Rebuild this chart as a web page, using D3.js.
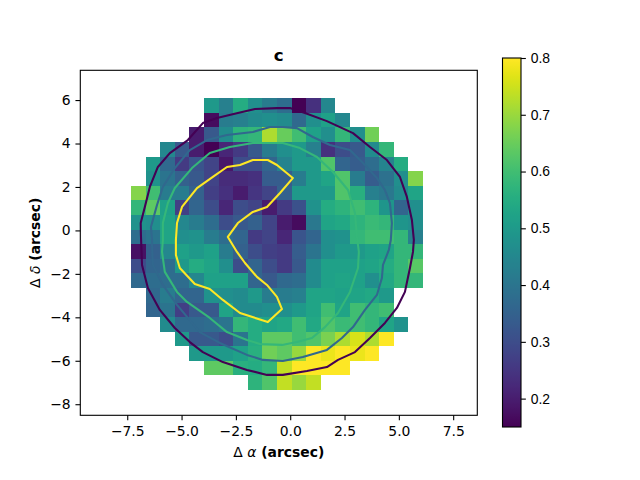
<!DOCTYPE html>
<html>
<head>
<meta charset="utf-8">
<script src="https://cdn.jsdelivr.net/npm/d3@7"></script>
<style>
  html, body { margin: 0; padding: 0; background: #fff; }
  svg { display: block; font-family: "DejaVu Sans", sans-serif; }
  .tick text { font-size: 13.9px; fill: #000; }
  .domain, .tick line { stroke: #000; stroke-width: 1.1px; }
</style>
</head>
<body>
<div id="chart"></div>
<script>
// grid geometry in arcsec
const gridLeft = -7.33;
const gridTop = 6.09;
const cellSize = 0.672;

// first filled column of every row
const firstCol = [5, 5, 4, 2, 1, 1, 0, 0, 0, 0, 0, 0, 0, 1, 1, 2, 3, 4, 5, 8];

const rowValues = [
  [.5, .43, .55, .47, .42, .38, .15, .24, .45],
  [.17, .42, .43, .46, .47, .46, .37, .47, .52, .45],
  [.2, .33, .46, .57, .58, .72, .65, .6, .52, .47, .58, .47, .66],
  [.45, .33, .2, .15, .22, .26, .33, .42, .47, .5, .43, .24, .3, .33, .46, .58],
  [.5, .37, .26, .32, .28, .19, .3, .3, .36, .44, .5, .5, .62, .36, .34, .38, .44, .55],
  [.48, .4, .35, .33, .28, .23, .23, .24, .34, .34, .42, .5, .53, .62, .42, .34, .39, .47, .68],
  [.68, .6, .42, .42, .35, .27, .24, .2, .25, .28, .35, .5, .5, .5, .62, .56, .43, .41, .46, .53],
  [.58, .64, .52, .27, .36, .3, .22, .3, .28, .2, .26, .31, .48, .55, .57, .6, .57, .49, .36, .47],
  [.48, .47, .53, .45, .42, .38, .3, .33, .35, .28, .2, .17, .41, .53, .54, .57, .59, .58, .49, .47],
  [.38, .4, .53, .47, .48, .42, .38, .36, .26, .28, .22, .32, .36, .47, .48, .58, .6, .6, .58, .43],
  [.18, .35, .45, .52, .5, .52, .42, .35, .3, .27, .26, .34, .4, .47, .5, .5, .52, .53, .58, .58],
  [.3, .36, .38, .5, .55, .53, .47, .3, .36, .3, .26, .33, .46, .52, .52, .52, .53, .55, .58, .63],
  [.37, .38, .38, .38, .45, .52, .52, .52, .36, .33, .37, .38, .46, .52, .53, .52, .47, .54, .58, .58],
  [.37, .42, .36, .36, .48, .47, .46, .5, .42, .42, .43, .53, .53, .52, .53, .54, .5],
  [.36, .4, .27, .33, .33, .53, .46, .46, .47, .47, .5, .53, .6, .53, .6, .58, .6],
  [.46, .37, .37, .38, .4, .58, .55, .53, .54, .6, .54, .62, .59, .6, .58, .53, .48],
  [.5, .33, .33, .3, .4, .55, .64, .64, .6, .62, .67, .72, .76, .72, .8],
  [.5, .5, .5, .52, .56, .66, .64, .7, .8, .78, .8, .78, .8],
  [.64, .64, .56, .55, .58, .74, .8, .8, .8, .8],
  [.57, .62, .74, .7, .74]
];

// contour traces [ra, dec], outermost first
const contourOuter = [
  [-6.87, -.21], [-6.88, .34], [-6.69, 1.08], [-6.46, 2], [-6.09, 2.92], [-5.54, 3.56], [-4.71, 4.16],
  [-4.02, 4.94], [-3.37, 5.17], [-2.41, 5.4], [-1.62, 5.59], [-.61, 5.63], [-.01, 5.63], [.68, 5.4],
  [1.69, 5.03], [2.89, 4.48], [3.67, 3.84], [4.45, 3.24], [5.05, 2.46], [5.37, 1.54], [5.6, .48],
  [5.69, -.44], [5.65, -.99], [5.51, -1.73], [5.28, -2.83], [4.91, -3.57], [4.36, -4.26], [3.67, -4.95],
  [2.98, -5.6], [2.2, -5.96], [1.69, -6.29], [.77, -6.47], [-.34, -6.65], [-1.07, -6.65], [-1.99, -6.42],
  [-3.1, -6.06], [-4.02, -5.6], [-4.62, -5.14], [-5.31, -4.49], [-6, -3.66], [-6.55, -2.65], [-6.82, -1.59]
];
const contourMid = [
  [-6.36, -.44], [-6.41, .16], [-6.13, 1.17], [-5.86, 2], [-5.31, 2.87], [-4.62, 3.7], [-3.83, 4.16],
  [-2.91, 4.39], [-1.72, 4.53], [-.93, 4.76], [-.34, 4.76], [.31, 4.71], [1.04, 4.3], [1.83, 3.93],
  [2.75, 3.7], [3.35, 3.1], [3.99, 2.41], [4.36, 1.86], [4.59, 1.26], [4.68, .34], [4.63, -.44],
  [4.54, -.9], [4.27, -1.59], [4.22, -2.19], [3.99, -2.97], [3.44, -3.66], [2.89, -4.45], [2.38, -4.95],
  [1.69, -5.5], [.58, -5.83], [-.34, -6.01], [-1.26, -5.96], [-1.99, -5.73], [-3.24, -5.18], [-4.16, -4.68],
  [-5.21, -3.43], [-5.86, -2.51], [-6.32, -1.59], [-6.36, -.67]
];
const contourInner = [
  [-5.86, -.44], [-5.86, .34], [-5.63, 1.26], [-5.31, 1.95], [-4.52, 2.87], [-3.7, 3.56], [-2.78, 3.84],
  [-1.72, 4.02], [-.34, 4.02], [.45, 3.79], [1.23, 3.38], [1.97, 2.69], [2.66, 1.86], [2.98, .8],
  [3.07, -.3], [3.16, -.99], [3.12, -1.73], [2.75, -2.83], [2.2, -3.8], [1.6, -4.45], [1, -4.95],
  [.31, -5.14], [-.38, -5.27], [-1.39, -5.23], [-1.99, -5.04], [-2.91, -4.68], [-3.7, -4.03], [-4.75, -3.29],
  [-5.21, -2.83], [-5.77, -1.91], [-5.9, -.99]
];
const contourCore = [
  [.12, 2.41], [-.61, 3.01], [-1.03, 3.24], [-1.72, 3.24], [-2.31, 3.01], [-2.91, 2.92], [-3.56, 2.46],
  [-4.29, 1.95], [-4.98, 1.08], [-5.21, .34], [-5.26, -.44], [-5.26, -1.13], [-5.08, -1.73], [-4.39, -2.47],
  [-3.7, -2.7], [-3.1, -3.2], [-2.31, -3.8], [-1.03, -4.22], [-.38, -3.62], [-.61, -3.06], [-1.07, -2.51],
  [-1.53, -2.14], [-2.08, -1.5], [-2.45, -.99], [-2.87, -.3], [-2.41, .34], [-1.72, .85], [-1.07, 1.08],
  [-.47, 1.72]
];
const contourColors = ["#440154", "#31688e", "#35b779", "#fde725"];

const xTicks = [-7.5, -5, -2.5, 0, 2.5, 5, 7.5];
const yTicks = [-8, -6, -4, -2, 0, 2, 4, 6];
const cbarTicks = [0.2, 0.3, 0.4, 0.5, 0.6, 0.7, 0.8];
const vMin = 0.15;
const vMax = 0.8;

const svg = d3.select("#chart").append("svg")
  .attr("width", 640)
  .attr("height", 480);

const x = d3.scaleLinear().domain([-9.66, 8.61]).range([80.3, 477.3]);
const y = d3.scaleLinear().domain([-8.51, 7.37]).range([415.3, 70.3]);
const color = d3.scaleSequential(d3.interpolateViridis).domain([vMin, vMax]);

// Flatten the rows into cells
const cells = [];
rowValues.forEach((row, r) => {
  row.forEach((v, i) => cells.push({ r, c: firstCol[r] + i, v }));
});

svg.append("g")
  .selectAll("rect")
  .data(cells)
  .join("rect")
  .attr("shape-rendering", "crispEdges")
  .attr("x", d => x(gridLeft + d.c * cellSize))
  .attr("y", d => y(gridTop - d.r * cellSize))
  .attr("width", d => x(gridLeft + (d.c + 1) * cellSize) - x(gridLeft + d.c * cellSize))
  .attr("height", d => y(gridTop - (d.r + 1) * cellSize) - y(gridTop - d.r * cellSize))
  .attr("fill", d => color(d.v));

const line = d3.line()
  .x(d => x(d[0]))
  .y(d => y(d[1]))
  .curve(d3.curveLinearClosed);

svg.append("g")
  .attr("fill", "none")
  .attr("stroke-width", 2.08)
  .attr("stroke-linejoin", "round")
  .selectAll("path")
  .data([contourOuter, contourMid, contourInner, contourCore])
  .join("path")
  .attr("d", line)
  .attr("stroke", (d, i) => contourColors[i]);

// Frame and axes
svg.append("rect")
  .attr("x", 80.3).attr("y", 70.3)
  .attr("width", 397).attr("height", 345)
  .attr("fill", "none")
  .attr("stroke", "#000")
  .attr("stroke-width", 1.1);

svg.append("g")
  .attr("transform", "translate(0,415.3)")
  .call(d3.axisBottom(x).tickValues(xTicks).tickSize(4.86).tickPadding(5.6).tickFormat(d3.format(".1f")))
  .call(g => g.select(".domain").remove());

svg.append("g")
  .attr("transform", "translate(80.3,0)")
  .call(d3.axisLeft(y).tickValues(yTicks).tickSize(4.86).tickPadding(4.8).tickFormat(d3.format("d")))
  .call(g => g.select(".domain").remove());

svg.selectAll(".tick text").attr("font-family", "DejaVu Sans");

// Labels
svg.append("text")
  .attr("x", 278.8).attr("y", 61)
  .attr("text-anchor", "middle")
  .attr("font-size", 16.67)
  .attr("font-weight", "bold")
  .text("c");

const xLabel = svg.append("text")
  .attr("x", 278.8).attr("y", 457)
  .attr("text-anchor", "middle")
  .attr("font-size", 13.9)
  .attr("font-weight", "bold");
xLabel.append("tspan").attr("font-weight", "normal").text("Δ ");
xLabel.append("tspan").attr("font-weight", "normal").attr("font-style", "italic").text("α");
xLabel.append("tspan").text(" (arcsec)");

const yLabel = svg.append("text")
  .attr("transform", "translate(40,242.8) rotate(-90)")
  .attr("text-anchor", "middle")
  .attr("font-size", 13.9)
  .attr("font-weight", "bold");
yLabel.append("tspan").attr("font-weight", "normal").text("Δ ");
yLabel.append("tspan").attr("font-weight", "normal").attr("font-style", "italic").text("δ");
yLabel.append("tspan").text(" (arcsec)");

// Colorbar
const cbarY = d3.scaleLinear().domain([vMin, vMax]).range([427, 58]);

const gradient = svg.append("defs").append("linearGradient")
  .attr("id", "cbar")
  .attr("x1", 0).attr("y1", 1).attr("x2", 0).attr("y2", 0);
gradient.selectAll("stop")
  .data(d3.range(0, 257))
  .join("stop")
  .attr("offset", d => d / 256)
  .attr("stop-color", d => d3.interpolateViridis(d / 256));

svg.append("rect")
  .attr("x", 502.5).attr("y", cbarY(vMax))
  .attr("width", 18.5).attr("height", cbarY(vMin) - cbarY(vMax))
  .attr("fill", "url(#cbar)")
  .attr("stroke", "#000")
  .attr("stroke-width", 1.1);

svg.append("g")
  .attr("transform", "translate(521,0)")
  .call(d3.axisRight(cbarY).tickValues(cbarTicks).tickSize(4.86).tickPadding(4.8).tickFormat(d3.format(".1f")))
  .call(g => g.select(".domain").remove());
</script>
</body>
</html>
